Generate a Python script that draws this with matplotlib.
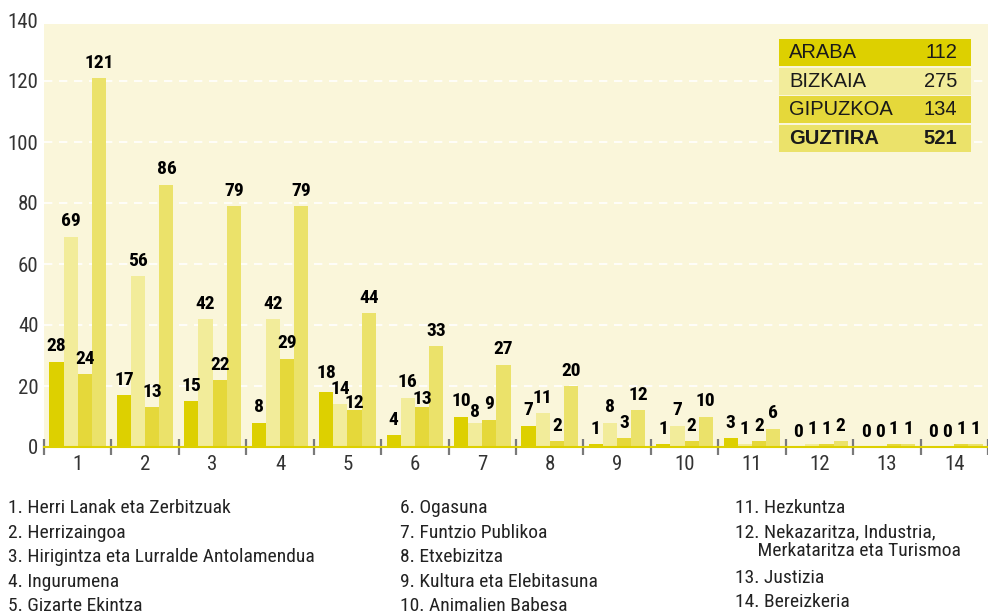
import matplotlib
matplotlib.use("Agg")
import matplotlib.pyplot as plt
import numpy as np
from matplotlib import font_manager as fm
from matplotlib.patches import Rectangle

# ---------------- data ----------------
categories = [str(i) for i in range(1, 15)]
series_names = ["ARABA", "BIZKAIA", "GIPUZKOA", "GUZTIRA"]
araba    = [28, 17, 15, 8, 18, 4, 10, 7, 1, 1, 3, 0, 0, 0]
bizkaia  = [69, 56, 42, 42, 14, 16, 8, 11, 8, 7, 1, 1, 0, 0]
gipuzkoa = [24, 13, 22, 29, 12, 13, 9, 2, 3, 2, 2, 1, 1, 1]
guztira  = [121, 86, 79, 79, 44, 33, 27, 20, 12, 10, 6, 2, 1, 1]
totals = [112, 275, 134, 521]
yticks = [0, 20, 40, 60, 80, 100, 120, 140]
notes_col1 = ["1. Herri Lanak eta Zerbitzuak", "2. Herrizaingoa",
              "3. Hirigintza eta Lurralde Antolamendua", "4. Ingurumena",
              "5. Gizarte Ekintza"]
notes_col2 = ["6. Ogasuna", "7. Funtzio Publikoa", "8. Etxebizitza",
              "9. Kultura eta Elebitasuna", "10. Animalien Babesa"]
notes_col3 = ["11. Hezkuntza", "12. Nekazaritza, Industria,",
              "     Merkataritza eta Turismoa", "13. Justizia", "14. Bereizkeria"]

colors = ["#DDD000", "#F2EC9A", "#E5D83A", "#EBE26A"]
bg = "#FAF6DA"
# label nudges (points) for crowded labels: (group index, series index) -> dy
nudge = {(4, 0): 3, (4, 2): -6, (5, 1): 1, (5, 2): -5, (6, 1): -3, (7, 0): 0}

def pick(fams):
    for f in fams:
        try:
            fm.findfont(fm.FontProperties(family=f), fallback_to_default=False)
            return f
        except Exception:
            pass
    return "DejaVu Sans"

narrow = pick(["Liberation Sans Narrow", "Roboto Condensed", "Liberation Sans"])
reg = pick(["Liberation Sans", "DejaVu Sans"])

W, H = 988, 616
fig = plt.figure(figsize=(W / 100, H / 100), dpi=100)
ax = fig.add_axes([44 / W, (H - 447) / H, 944 / W, 427 / H])
ax.set_facecolor("none")

x = np.arange(1, 15)
bw = 0.21
series = [araba, bizkaia, gipuzkoa, guztira]
ax.axhspan(0, 138.7, color=bg, zorder=0, lw=0)
for yv in yticks[1:-1]:
    ax.axhline(yv, color="white", lw=1.2, ls=(0, (5, 4)), zorder=1)

for k, vals in enumerate(series):
    xs = x + (k - 1.5) * bw
    ax.bar(xs, vals, width=bw, color=colors[k], zorder=2, lw=0)
    for g, (xi, v) in enumerate(zip(xs, vals)):
        dy = 4.5 + nudge.get((g, k), 0)
        ax.annotate(str(v), (xi, v), xytext=(0, dy), textcoords="offset points",
                    ha="center", va="bottom", fontsize=14, fontweight="bold",
                    family=narrow, color="black", zorder=5)

ax.set_xlim(0.5, 14.5)
ax.set_ylim(0, 140)
ax.set_yticks(yticks)
ax.set_yticklabels([str(v) for v in yticks], family=narrow, fontsize=15, color="#333333")
ax.tick_params(axis="y", length=0, pad=4)

ax.set_xticks(np.arange(0.5, 15.0, 1.0))
ax.set_xticklabels([])
ax.tick_params(axis="x", which="major", direction="inout", length=12, width=1.6, color="#7A7A7A")
ax.set_xticks(x, minor=True)
ax.set_xticklabels(categories, minor=True, family=narrow, fontsize=15, color="#333333")
ax.tick_params(axis="x", which="minor", length=0, pad=6)

for s in ["top", "right", "left"]:
    ax.spines[s].set_visible(False)
ax.spines["bottom"].set_color("#DDD000")
ax.spines["bottom"].set_linewidth(1.5)
ax.spines["bottom"].set_zorder(3)

# legend table
rows = [(39, 66), (68, 95), (96, 123), (125, 152)]
for k, (t, b) in enumerate(rows):
    fig.patches.append(Rectangle((779 / W, (H - b) / H), 192 / W, (b - t) / H,
                                 transform=fig.transFigure, color=colors[k], lw=0, zorder=10))
    yc = (H - (t + b) / 2) / H
    fw = "bold" if k == 3 else "normal"
    fig.text(789 / W, yc, series_names[k], ha="left", va="center", fontsize=14.5,
             family=reg, fontweight=fw, color="#1a1a1a", zorder=11)
    fig.text(957 / W, yc, str(totals[k]), ha="right", va="center", fontsize=14.5,
             family=reg, fontweight=fw, color="#1a1a1a", zorder=11)

# notes
ys1 = [508, 533, 557, 582, 606]
for t, yy in zip(notes_col1, ys1):
    fig.text(8 / W, (H - yy) / H, t, ha="left", va="center", fontsize=14, family=narrow, color="#222222")
for t, yy in zip(notes_col2, ys1):
    fig.text(400 / W, (H - yy) / H, t, ha="left", va="center", fontsize=14, family=narrow, color="#222222")
ys3 = [508, 532, 551, 578, 602]
for t, yy in zip(notes_col3, ys3):
    fig.text(735 / W, (H - yy) / H, t, ha="left", va="center", fontsize=14, family=narrow, color="#222222")

fig.savefig("out.png", dpi=100)
